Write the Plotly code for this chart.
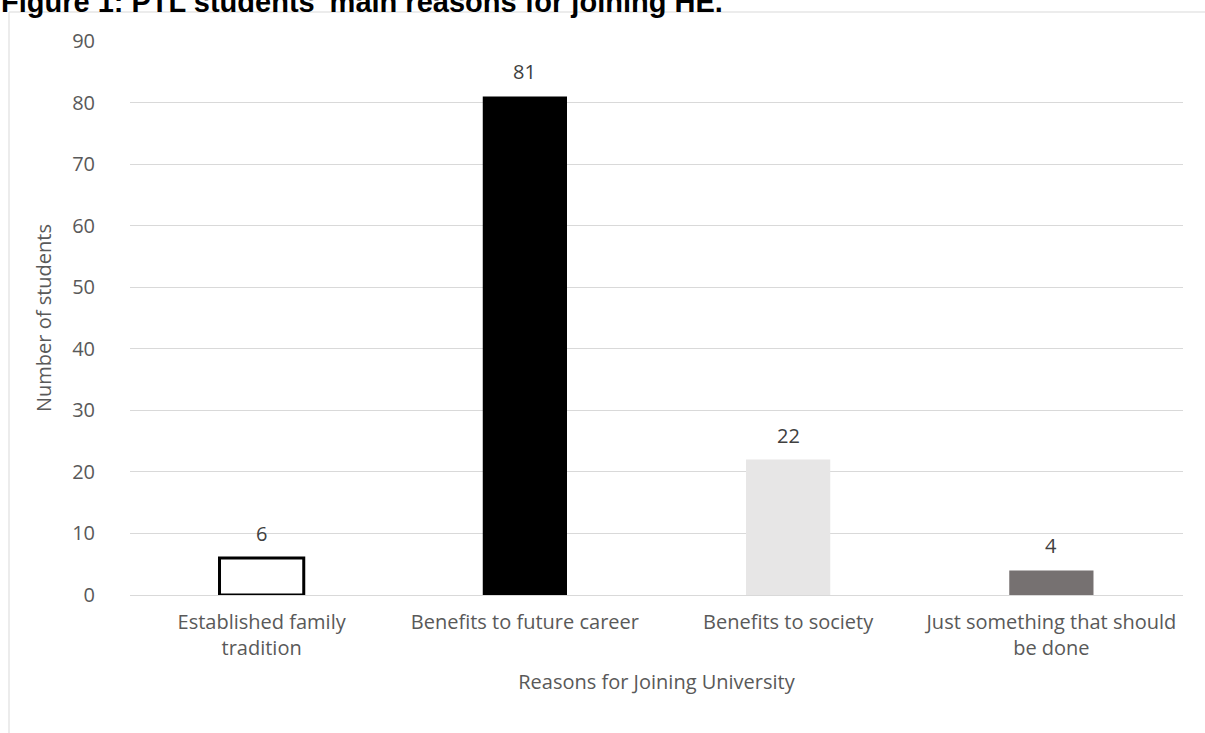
import plotly.graph_objects as go

categories = ["Established family<br>tradition", "Benefits to future career",
              "Benefits to society", "Just something that should<br>be done"]
values = [6, 81, 22, 4]
bar_colors = ["#ffffff", "#000000", "#e7e6e6", "#767171"]
line_colors = ["#000000", "#000000", "#e7e6e6", "#767171"]
line_widths = [3, 0, 0, 0]
y_ticks = [0, 10, 20, 30, 40, 50, 60, 70, 80, 90]

FONT = "Open Sans, sans-serif"
TXT = "#595959"
FS = 20

W, H = 1205, 733
ml, mr, mt, mb = 130, 22, 41, 138
pw, ph = W - ml - mr, H - mt - mb

fig = go.Figure(go.Bar(
    x=categories, y=values,
    marker=dict(color=bar_colors, line=dict(color=line_colors, width=line_widths)),
    cliponaxis=False, width=0.32,
))

def px_x(x):
    return (x - ml) / pw

def px_y(y):
    return (H - mb - y) / ph

annotations = [dict(text="<b>Figure 1: PTL students' main reasons for joining HE.</b>",
                    xref="paper", yref="paper", x=px_x(-1), y=px_y(20),
                    xanchor="left", yanchor="bottom", showarrow=False,
                    font=dict(family="Liberation Sans, Arial", size=29, color="#000000"))]
for c, v in zip(categories, values):
    annotations.append(dict(text=str(v), x=c, y=v, xref="x", yref="y",
                            yanchor="bottom", yshift=9, showarrow=False,
                            font=dict(family=FONT, size=FS, color="#404040")))

fig.update_layout(
    width=W, height=H,
    margin=dict(l=ml, r=mr, t=mt, b=mb),
    paper_bgcolor="white", plot_bgcolor="white",
    showlegend=False,
    font=dict(family=FONT, size=FS, color=TXT),
    xaxis=dict(
        showgrid=False, showline=True, linecolor="#d9d9d9", linewidth=1,
        tickfont=dict(family=FONT, size=FS, color=TXT),
        ticklabelstandoff=9,
        title=dict(text="Reasons for Joining University",
                   font=dict(family=FONT, size=FS, color=TXT), standoff=14),
    ),
    yaxis=dict(
        range=[0, 90], tickvals=y_ticks, showgrid=True, gridcolor="#d9d9d9",
        gridwidth=1, zeroline=False, showline=False,
        tickfont=dict(family=FONT, size=FS, color=TXT),
        ticklabelstandoff=34,
        title=dict(text="Number of students",
                   font=dict(family=FONT, size=FS, color=TXT), standoff=15),
    ),
    shapes=[dict(type="rect", xref="paper", yref="paper",
                 x0=px_x(9), x1=px_x(1230), y0=px_y(760), y1=px_y(12),
                 line=dict(color="#d9d9d9", width=1), fillcolor="rgba(0,0,0,0)",
                 layer="below")],
    annotations=annotations,
)

fig.write_html("out.html")
